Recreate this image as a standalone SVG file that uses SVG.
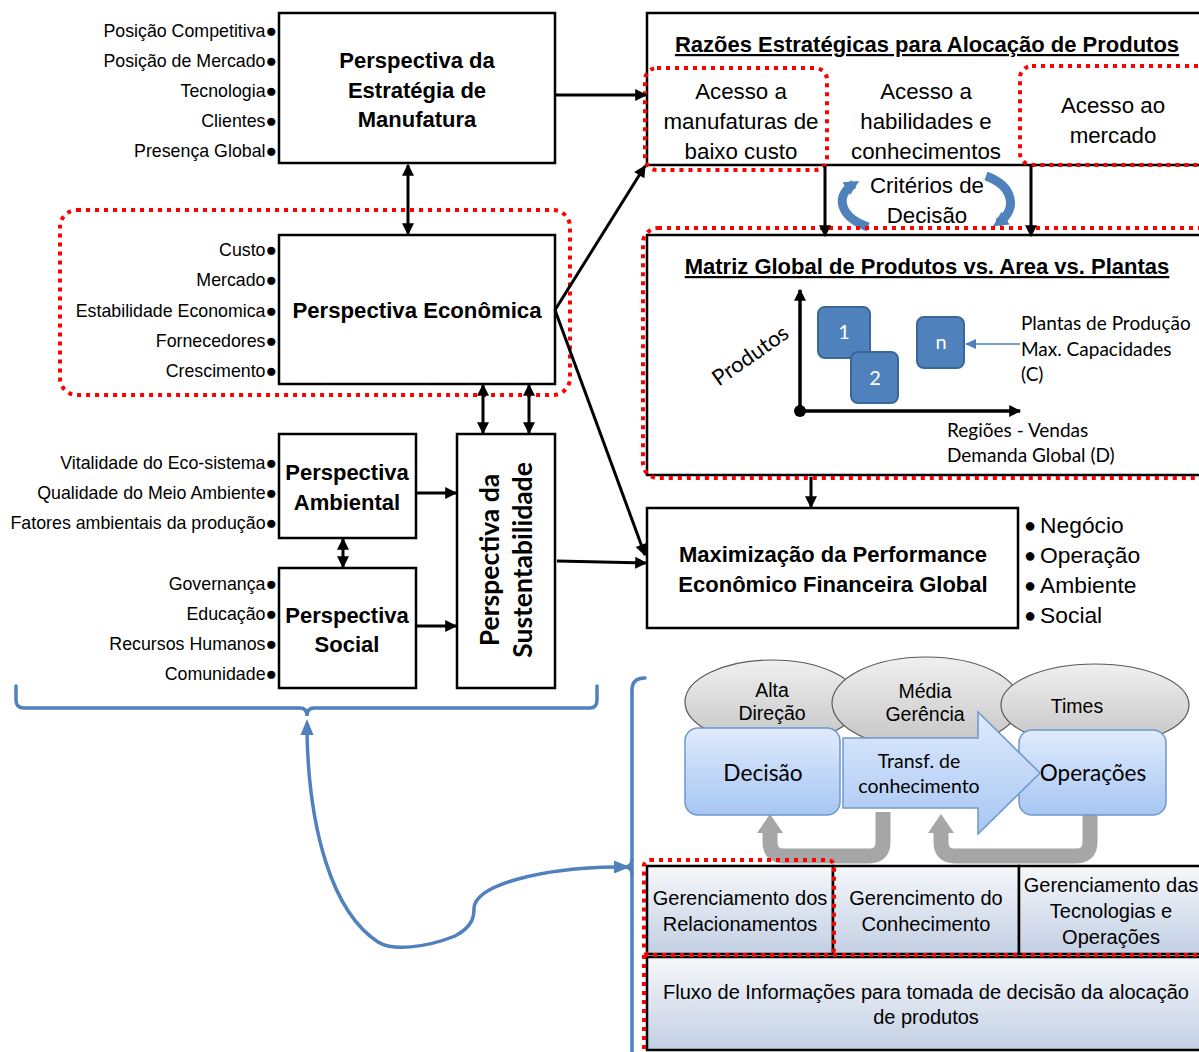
<svg xmlns="http://www.w3.org/2000/svg" width="1199" height="1052" viewBox="0 0 1199 1052">
  <style>
    .box { fill: #ffffff; stroke: #000000; stroke-width: 2.5; }
    .lbl { font-family: "Liberation Sans", Arial, sans-serif; font-size: 17.8px; fill: #000000; text-anchor: end; }
    .ttl { font-family: "Liberation Sans", Arial, sans-serif; font-size: 22px; font-weight: bold; fill: #000000; text-anchor: middle; }
    .txt { font-family: "Liberation Sans", Arial, sans-serif; font-size: 22.3px; fill: #000000; text-anchor: middle; }
    .cal { font-family: Lato, "Open Sans", sans-serif; fill: #000000; }
    .conn { stroke: #000000; stroke-width: 3; fill: none; }
    .red { fill: none; stroke: #ff0000; stroke-width: 4; stroke-dasharray: 4 5; }
    .blue { fill: none; stroke: #4f81bd; stroke-width: 3.5; stroke-linecap: round; }
    .dot { font-size: 19px; }
    .cell { fill: url(#cellGrad); stroke: #000000; stroke-width: 2.5; }
    .cellTxt { font-family: "Liberation Sans", Arial, sans-serif; font-size: 20px; fill: #000000; text-anchor: middle; }
    .ell { font-family: "Liberation Sans", Arial, sans-serif; font-size: 19.5px; fill: #000000; text-anchor: middle; }
    .bul { font-family: "Liberation Sans", Arial, sans-serif; font-size: 22.8px; fill: #000000; }
  </style>
  <defs>
    <marker id="ah" viewBox="0 0 10 10" refX="9" refY="5" markerUnits="userSpaceOnUse" markerWidth="13" markerHeight="12" orient="auto-start-reverse">
      <path d="M0,0 L10,5 L0,10 z" fill="#000000"/>
    </marker>
    <marker id="bh" viewBox="0 0 10 10" refX="6" refY="5" markerUnits="userSpaceOnUse" markerWidth="15" markerHeight="20" orient="auto">
      <path d="M0,0 L10,5 L0,10 z" fill="#4f81bd"/>
    </marker>
    <linearGradient id="ellGrad" x1="0" y1="0" x2="0" y2="1">
      <stop offset="0" stop-color="#f0f0f0"/>
      <stop offset="1" stop-color="#c4c4c4"/>
    </linearGradient>
    <linearGradient id="blueGrad" x1="0" y1="0" x2="0" y2="1">
      <stop offset="0" stop-color="#e0ebfc"/>
      <stop offset="1" stop-color="#a6c6f3"/>
    </linearGradient>
    <linearGradient id="cellGrad" x1="0" y1="0" x2="0" y2="1">
      <stop offset="0" stop-color="#f6f8fb"/>
      <stop offset="1" stop-color="#c2cfe3"/>
    </linearGradient>
  </defs>

  <!-- Perspectiva da Estratégia de Manufatura -->
  <g id="estrategia">
    <rect class="box" x="279" y="13" width="276" height="150"/>
    <text class="ttl" x="417" y="68">Perspectiva da</text>
    <text class="ttl" x="417" y="98">Estratégia de</text>
    <text class="ttl" x="417" y="127">Manufatura</text>
    <text class="lbl" x="277" y="37">Posição Competitiva<tspan class="dot">●</tspan></text>
    <text class="lbl" x="277" y="67">Posição de Mercado<tspan class="dot">●</tspan></text>
    <text class="lbl" x="277" y="97">Tecnologia<tspan class="dot">●</tspan></text>
    <text class="lbl" x="277" y="127">Clientes<tspan class="dot">●</tspan></text>
    <text class="lbl" x="277" y="157">Presença Global<tspan class="dot">●</tspan></text>
  </g>

  <!-- Perspectiva Econômica -->
  <g id="economica">
    <rect class="box" x="279" y="235" width="276" height="149"/>
    <text class="ttl" x="417" y="318" style="font-size:22.2px">Perspectiva Econômica</text>
    <text class="lbl" x="277" y="256">Custo<tspan class="dot">●</tspan></text>
    <text class="lbl" x="277" y="286">Mercado<tspan class="dot">●</tspan></text>
    <text class="lbl" x="277" y="317">Estabilidade Economica<tspan class="dot">●</tspan></text>
    <text class="lbl" x="277" y="347">Fornecedores<tspan class="dot">●</tspan></text>
    <text class="lbl" x="277" y="377">Crescimento<tspan class="dot">●</tspan></text>
    <rect class="red" x="60" y="210" width="510" height="185" rx="17"/>
  </g>

  <!-- Perspectiva Ambiental -->
  <g id="ambiental">
    <rect class="box" x="279" y="434" width="137" height="104"/>
    <text class="ttl" x="347" y="480">Perspectiva</text>
    <text class="ttl" x="347" y="510">Ambiental</text>
    <text class="lbl" x="277" y="469">Vitalidade do Eco-sistema<tspan class="dot">●</tspan></text>
    <text class="lbl" x="277" y="499">Qualidade do Meio Ambiente<tspan class="dot">●</tspan></text>
    <text class="lbl" x="277" y="529">Fatores ambientais da produção<tspan class="dot">●</tspan></text>
  </g>

  <!-- Perspectiva Social -->
  <g id="social">
    <rect class="box" x="279" y="568" width="137" height="120"/>
    <text class="ttl" x="347" y="623">Perspectiva</text>
    <text class="ttl" x="347" y="652">Social</text>
    <text class="lbl" x="277" y="590">Governança<tspan class="dot">●</tspan></text>
    <text class="lbl" x="277" y="620">Educação<tspan class="dot">●</tspan></text>
    <text class="lbl" x="277" y="650">Recursos Humanos<tspan class="dot">●</tspan></text>
    <text class="lbl" x="277" y="680">Comunidade<tspan class="dot">●</tspan></text>
  </g>

  <!-- Perspectiva da Sustentabilidade (vertical text) -->
  <g id="sustentabilidade">
    <rect class="box" x="457" y="434" width="98" height="254"/>
    <text class="cal" x="499" y="560" transform="rotate(-90 499 560)" text-anchor="middle" font-size="26.5" font-weight="bold">Perspectiva da</text>
    <text class="cal" x="532" y="560" transform="rotate(-90 532 560)" text-anchor="middle" font-size="26.5" font-weight="bold">Sustentabilidade</text>
  </g>

  <!-- Razões Estratégicas para Alocação de Produtos -->
  <g id="razoes">
    <rect class="box" x="647" y="13" width="560" height="152"/>
    <text class="ttl" x="927" y="52" text-decoration="underline">Razões Estratégicas para Alocação de Produtos</text>
    <text class="txt" x="741" y="99">Acesso a</text>
    <text class="txt" x="741" y="129">manufaturas de</text>
    <text class="txt" x="741" y="159">baixo custo</text>
    <text class="txt" x="926" y="99">Acesso a</text>
    <text class="txt" x="926" y="129">habilidades e</text>
    <text class="txt" x="926" y="159">conhecimentos</text>
    <text class="txt" x="1113" y="113">Acesso ao</text>
    <text class="txt" x="1113" y="143">mercado</text>
    <rect class="red" x="645" y="68" width="182" height="102" rx="12"/>
    <rect class="red" x="1020" y="66" width="190" height="99" rx="12"/>
  </g>

  <!-- Critérios de Decisão -->
  <g id="criterios">
    <path d="M 868 227 C 840 217 834 196 854 184" fill="none" stroke="#4f81bd" stroke-width="9" marker-end="url(#bh)"/>
    <path d="M 986 176 C 1014 186 1018 210 998 223" fill="none" stroke="#4f81bd" stroke-width="9" marker-end="url(#bh)"/>
    <text class="txt" x="927" y="193">Critérios de</text>
    <text class="txt" x="927" y="223">Decisão</text>
  </g>

  <!-- Matriz Global de Produtos vs. Area vs. Plantas -->
  <g id="matriz">
    <rect class="box" x="647" y="235" width="560" height="240"/>
    <text class="ttl" x="927" y="274" text-decoration="underline">Matriz Global de Produtos vs. Area vs. Plantas</text>
    <line x1="800" y1="411" x2="800" y2="290" stroke="#000" stroke-width="3.5" marker-end="url(#ah)"/>
    <line x1="800" y1="411" x2="1020" y2="411" stroke="#000" stroke-width="3.5" marker-end="url(#ah)"/>
    <circle cx="800" cy="411" r="6" fill="#000"/>
    <text class="cal" x="750" y="363" font-size="22" text-anchor="middle" transform="rotate(-35 750 355)">Produtos</text>
    <rect x="818" y="307" width="52" height="51" rx="7" fill="#4f81bd" stroke="#3b6798" stroke-width="2"/>
    <rect x="851" y="352" width="47" height="51" rx="7" fill="#4f81bd" stroke="#3b6798" stroke-width="2"/>
    <rect x="917" y="317" width="47" height="51" rx="7" fill="#4f81bd" stroke="#3b6798" stroke-width="2"/>
    <text class="cal" x="844" y="339" font-size="20" text-anchor="middle" style="fill:#ffffff">1</text>
    <text class="cal" x="875" y="385" font-size="20" text-anchor="middle" style="fill:#ffffff">2</text>
    <text class="cal" x="941" y="349" font-size="20" text-anchor="middle" style="fill:#ffffff">n</text>
    <line x1="1020" y1="344" x2="966" y2="344" stroke="#4f81bd" stroke-width="1.5"/>
    <path d="M 965 344 L 976 339 L 976 349 z" fill="#4f81bd"/>
    <text class="cal" x="1021" y="330" font-size="19">Plantas de Produção</text>
    <text class="cal" x="1021" y="356" font-size="19">Max. Capacidades</text>
    <text class="cal" x="1021" y="381" font-size="19">(C)</text>
    <text class="cal" x="947" y="437" font-size="19">Regiões - Vendas</text>
    <text class="cal" x="947" y="462" font-size="19">Demanda Global (D)</text>
    <rect class="red" x="643" y="228" width="570" height="250" rx="15"/>
  </g>

  <!-- Maximização da Performance -->
  <g id="maximizacao">
    <rect class="box" x="647" y="508" width="371" height="120"/>
    <text class="ttl" x="833" y="562">Maximização da Performance</text>
    <text class="ttl" x="833" y="592">Econômico Financeira Global</text>
    <text class="bul" x="1024" y="533"><tspan font-size="20" dy="-1">●</tspan><tspan dx="4" dy="1">Negócio</tspan></text>
    <text class="bul" x="1024" y="563"><tspan font-size="20" dy="-1">●</tspan><tspan dx="4" dy="1">Operação</tspan></text>
    <text class="bul" x="1024" y="593"><tspan font-size="20" dy="-1">●</tspan><tspan dx="4" dy="1">Ambiente</tspan></text>
    <text class="bul" x="1024" y="623"><tspan font-size="20" dy="-1">●</tspan><tspan dx="4" dy="1">Social</tspan></text>
  </g>

  <!-- Management levels -->
  <g id="niveis">
    <ellipse cx="772" cy="702" rx="87" ry="42" fill="url(#ellGrad)" stroke="#595959" stroke-width="1.2"/>
    <ellipse cx="926" cy="703" rx="94" ry="46" fill="url(#ellGrad)" stroke="#595959" stroke-width="1.2"/>
    <ellipse cx="1095" cy="705" rx="94" ry="41" fill="url(#ellGrad)" stroke="#595959" stroke-width="1.2"/>
    <text class="ell" x="772" y="697">Alta</text>
    <text class="ell" x="772" y="720">Direção</text>
    <text class="ell" x="925" y="698">Média</text>
    <text class="ell" x="925" y="721">Gerência</text>
    <text class="ell" x="1077" y="713">Times</text>
  </g>

  <!-- Feedback loops -->
  <g id="retorno">
    <path d="M 883 812 L 883 842 Q 883 856 869 856 L 784 856 Q 770 856 770 842 L 770 832" fill="none" stroke="#a6a6a6" stroke-width="15"/>
    <path d="M 770 814 L 757 833 L 783 833 z" fill="#a6a6a6"/>
    <path d="M 1090 812 L 1090 842 Q 1090 856 1076 856 L 955 856 Q 941 856 941 842 L 941 832" fill="none" stroke="#a6a6a6" stroke-width="15"/>
    <path d="M 941 814 L 928 833 L 954 833 z" fill="#a6a6a6"/>
  </g>

  <g id="decisao">
    <rect x="685" y="728" width="155" height="87" rx="13" fill="url(#blueGrad)" stroke="#6e98cc" stroke-width="1.5"/>
    <text class="cal" x="763" y="781" font-size="22.7" text-anchor="middle">Decisão</text>
  </g>
  <g id="operacoes">
    <rect x="1019" y="730" width="147" height="85" rx="13" fill="url(#blueGrad)" stroke="#6e98cc" stroke-width="1.5"/>
    <text class="cal" x="1093" y="781" font-size="22.5" text-anchor="middle">Operações</text>
  </g>
  <g id="transferencia">
    <path d="M 843 738 L 978 738 L 978 712 L 1040 773 L 978 834 L 978 808 L 843 808 z" fill="url(#blueGrad)" stroke="#6e98cc" stroke-width="1.5"/>
    <text class="cal" x="919" y="768" font-size="19.5" text-anchor="middle">Transf. de</text>
    <text class="cal" x="919" y="793" font-size="19.5" text-anchor="middle">conhecimento</text>
  </g>

  <!-- Management areas -->
  <g id="areas">
    <rect class="cell" x="647" y="866" width="186" height="88"/>
    <rect class="cell" x="833" y="866" width="186" height="88"/>
    <rect class="cell" x="1019" y="866" width="190" height="88"/>
    <text class="cellTxt" x="740" y="905">Gerenciamento dos</text>
    <text class="cellTxt" x="740" y="931">Relacionamentos</text>
    <text class="cellTxt" x="926" y="905">Gerencimento do</text>
    <text class="cellTxt" x="926" y="931">Conhecimento</text>
    <text class="cellTxt" x="1111" y="892">Gerenciamento das</text>
    <text class="cellTxt" x="1111" y="918">Tecnologias e</text>
    <text class="cellTxt" x="1111" y="944">Operações</text>
  </g>
  <g id="fluxo">
    <rect class="cell" x="647" y="957" width="562" height="93"/>
    <text class="cellTxt" x="926" y="999">Fluxo de Informações para tomada de decisão da alocação</text>
    <text class="cellTxt" x="926" y="1024">de produtos</text>
  </g>
  <g id="destaques">
    <rect class="red" x="644" y="860" width="190" height="95" rx="6"/>
    <path class="red" d="M 644 955 L 1205 955 M 644 955 L 644 1060"/>
  </g>

  <!-- Connectors -->
  <g id="connectors">
    <line class="conn" x1="555" y1="95" x2="646" y2="95" marker-end="url(#ah)"/>
    <line class="conn" x1="408" y1="165" x2="408" y2="234" marker-start="url(#ah)" marker-end="url(#ah)"/>
    <line class="conn" x1="555" y1="310" x2="645" y2="166" marker-end="url(#ah)"/>
    <line class="conn" x1="555" y1="310" x2="645" y2="555" marker-end="url(#ah)"/>
    <line class="conn" x1="483" y1="385" x2="483" y2="433" marker-start="url(#ah)" marker-end="url(#ah)"/>
    <line class="conn" x1="529" y1="385" x2="529" y2="433" marker-start="url(#ah)" marker-end="url(#ah)"/>
    <line class="conn" x1="343" y1="539" x2="343" y2="567" marker-start="url(#ah)" marker-end="url(#ah)"/>
    <line class="conn" x1="416" y1="493" x2="456" y2="493" marker-end="url(#ah)"/>
    <line class="conn" x1="416" y1="626" x2="456" y2="626" marker-end="url(#ah)"/>
    <line class="conn" x1="557" y1="561" x2="646" y2="563" marker-end="url(#ah)"/>
    <line class="conn" x1="825" y1="166" x2="825" y2="236" marker-end="url(#ah)"/>
    <line class="conn" x1="1031" y1="166" x2="1031" y2="236" marker-end="url(#ah)"/>
    <line class="conn" x1="811" y1="477" x2="811" y2="507" marker-end="url(#ah)"/>

    <!-- blue brackets and link -->
    <path class="blue" d="M 16 686 L 16 700 Q 16 708 24 708 L 300 708 Q 307 708 307 716 Q 307 708 314 708 L 590 708 Q 597 708 597 700 L 597 686"/>
    <path class="blue" d="M 307 733 C 309 830 332 912 378 942 C 392 951 425 948 455 936 C 474 926 474 915 474 908 C 476 885 540 868 616 867"/>
    <path d="M 307 719 L 300.5 735 L 313.5 735 z" fill="#4f81bd"/>
    <path d="M 630 867 L 614 860.5 L 614 873.5 z" fill="#4f81bd"/>
    <path class="blue" d="M 645 678 Q 632 678 632 690 L 632 1052"/>
    <path class="blue" d="M 632 860 Q 632 867 624 867 Q 632 867 632 874"/>
  </g>
</svg>
